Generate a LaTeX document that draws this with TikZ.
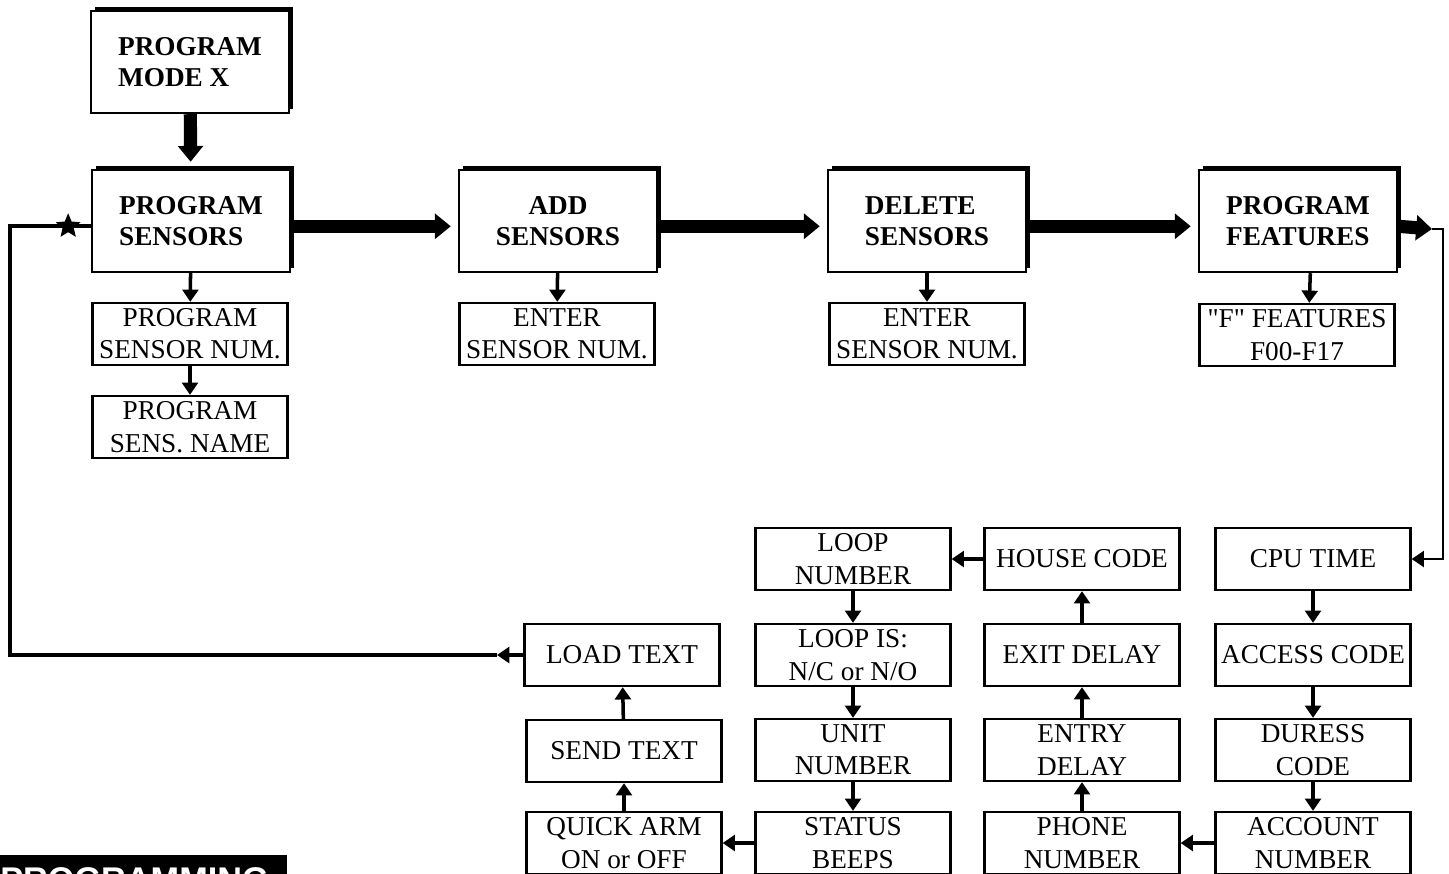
\documentclass[tikz,border=0pt]{standalone}
\usepackage{fontspec}
\setmainfont{Liberation Serif}
\newfontfamily\tagfont{Liberation Sans}
\usetikzlibrary{arrows.meta, positioning, shapes.geometric, shadows}

\begin{document}
\begin{tikzpicture}[
    x=0.02cm, y=-0.02cm,
    every node/.style={align=center, inner sep=0pt},
    mainbox/.style={draw, line width=1.4pt, fill=white,
                    minimum width=3.96cm, minimum height=2.04cm,
                    font=\fontsize{15.5}{17.6}\selectfont\bfseries,
                    drop shadow={shadow xshift=2.4pt, shadow yshift=2.4pt,
                                 fill=black, opacity=1}},
    subbox/.style={draw, line width=1.3pt, fill=white,
                   minimum width=3.9cm, minimum height=1.24cm,
                   font=\fontsize{15.5}{18.4}\selectfont},
    bigarrow/.style={-{Triangle[length=9pt, width=14pt]}, line width=7.5pt, shorten >=4pt},
    link/.style={-{Triangle[length=7pt, width=9pt]}, line width=2pt},
    back/.style={line width=2.2pt},
    starmark/.style={star, star points=5, star point ratio=2.2, fill=black,
                     minimum size=0.52cm}
  ]
    \useasboundingbox (0,0) rectangle (1449,873);
    \clip (0,0) rectangle (1449,873);

    % main menu row
    \node[mainbox, align=left] (mode) at (190,62) {PROGRAM\\MODE X};
    \node[mainbox, align=left] (psens) at (191,221) {PROGRAM\\SENSORS};
    \node[mainbox] (add) at (558,221) {ADD\\SENSORS};
    \node[mainbox, align=left] (del) at (927,221) {DELETE\\SENSORS};
    \node[mainbox, align=left] (feat) at (1298,221) {PROGRAM\\FEATURES};

    % sub steps below the menu row
    \node[subbox] (psnum) at (190,334) {PROGRAM\\SENSOR NUM.};
    \node[subbox] (psname) at (190,427) {PROGRAM\\SENS. NAME};
    \node[subbox] (anum) at (557,334) {ENTER\\SENSOR NUM.};
    \node[subbox] (dnum) at (927,334) {ENTER\\SENSOR NUM.};
    \node[subbox] (ffeat) at (1297,335) {\textquotedbl F\textquotedbl{} FEATURES\\F00-F17};

    % feature chain
    \node[subbox] (cpu) at (1313,559) {CPU TIME};
    \node[subbox] (access) at (1313,655) {ACCESS CODE};
    \node[subbox] (duress) at (1313,750) {DURESS\\CODE};
    \node[subbox] (account) at (1313,843) {ACCOUNT\\NUMBER};
    \node[subbox] (phone) at (1082,843) {PHONE\\NUMBER};
    \node[subbox] (entry) at (1082,750) {ENTRY\\DELAY};
    \node[subbox] (exit) at (1082,655) {EXIT DELAY};
    \node[subbox] (house) at (1082,559) {HOUSE CODE};
    \node[subbox] (loop) at (853,559) {LOOP\\NUMBER};
    \node[subbox] (loopis) at (853,655) {LOOP IS:\\N/C or N/O};
    \node[subbox] (unit) at (853,750) {UNIT\\NUMBER};
    \node[subbox] (status) at (853,843) {STATUS\\BEEPS};
    \node[subbox] (quick) at (624,843) {QUICK ARM\\ON or OFF};
    \node[subbox] (send) at (624,751) {SEND TEXT};
    \node[subbox] (load) at (622,655) {LOAD TEXT};

    % tab in the corner
    \node[fill=black, text=white, anchor=north west, text width=5.74cm, align=left,
          inner ysep=7pt, font=\tagfont\fontsize{19.5}{19.5}\selectfont\bfseries]
          (tag) at (0,855) {PROGRAMMING};

    % heavy arrows along the menu row
    \draw[bigarrow] (mode) -- (psens);
    \draw[bigarrow] ([yshift=-3pt]psens.east) -- ([yshift=-3pt]add.west);
    \draw[bigarrow] ([yshift=-3pt]add.east) -- ([yshift=-3pt]del.west);
    \draw[bigarrow] ([yshift=-3pt]del.east) -- ([yshift=-3pt]feat.west);
    \coordinate (fturn) at (1432,229);
    \coordinate (fedge) at (1443,229);
    \draw[bigarrow, shorten >=0pt] ([yshift=-3pt]feat.east) -- (fturn);
    \draw[link, line width=1.6pt] (fturn) -- (fedge) |- (cpu.east);

    % menu items to their first step
    \draw[link] (psens) -- (psnum);
    \draw[link] (psnum) -- (psname);
    \draw[link] (add) -- (anum);
    \draw[link] (del) -- (dnum);
    \draw[link] ([xshift=7pt]feat.south) -- ([xshift=7pt]ffeat.north);

    % through the features and back
    \draw[link] (cpu) -- (access);
    \draw[link] (access) -- (duress);
    \draw[link] (duress) -- (account);
    \draw[link] (account) -- (phone);
    \draw[link] (phone) -- (entry);
    \draw[link] (entry) -- (exit);
    \draw[link] (exit) -- (house);
    \draw[link] (house) -- (loop);
    \draw[link] (loop) -- (loopis);
    \draw[link] (loopis) -- (unit);
    \draw[link] (unit) -- (status);
    \draw[link] (status) -- (quick);
    \draw[link] (quick) -- (send);
    \draw[link] (send) -- (load);

    \coordinate (rmid) at (497,655);
    \coordinate (rleft) at (10,655);
    \draw[link, line width=2.2pt] (load) -- (rmid);
    \draw[back] (rmid) -- (rleft) |- ([yshift=-3pt]psens.west)
      node[starmark, pos=0.86] (tick) {};
  \end{tikzpicture}
\end{document}
